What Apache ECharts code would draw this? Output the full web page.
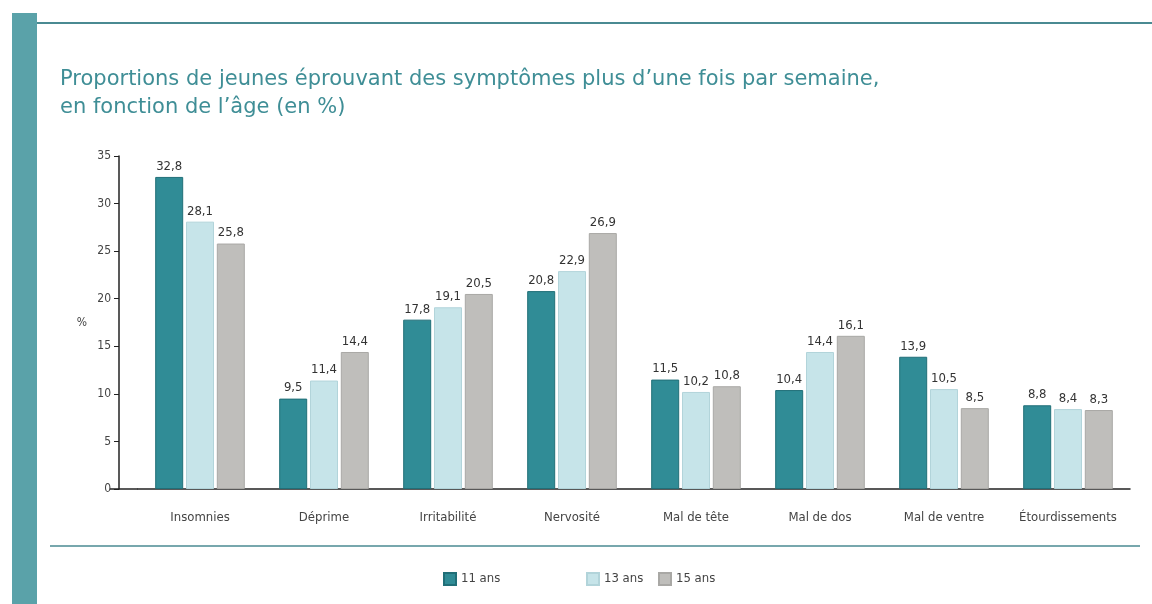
<!DOCTYPE html>
<html>
<head>
<meta charset="utf-8">
<title>Symptômes par âge</title>
<script src="https://cdn.jsdelivr.net/npm/echarts@6/dist/echarts.min.js"></script>
<style>
    html, body { margin: 0; padding: 0; background: #ffffff; }
    #main { width: 1152px; height: 604px; }
</style>
</head>
<body>
<div id="main"></div>
<script>
// symptômes (catégories de l'axe x)
var categories = ['Insomnies', 'Déprime', 'Irritabilité', 'Nervosité',
    'Mal de tête', 'Mal de dos', 'Mal de ventre', 'Étourdissements'];
// valeurs en % par âge
var ans11 = [32.8, 9.5, 17.8, 20.8, 11.5, 10.4, 13.9, 8.8];
var ans13 = [28.1, 11.4, 19.1, 22.9, 10.2, 14.4, 10.5, 8.4];
var ans15 = [25.8, 14.4, 20.5, 26.9, 10.8, 16.1, 8.5, 8.3];
var seriesNames = ['11 ans', '13 ans', '15 ans'];
var yTicks = [0, 5, 10, 15, 20, 25, 30, 35];

var colors = ['#308c96', '#c6e4e9', '#bfbebb'];
var borders = ['#216f78', '#b2d4da', '#a9a8a5'];
var narrow = "'Liberation Sans Narrow', 'DejaVu Sans Condensed', sans-serif";
var teal = '#3f8e96';

function makeSeries(name, values, i) {
    return {
        name: name,
        type: 'bar',
        barWidth: 28,
        barGap: '10%',
        data: values,
        itemStyle: {color: colors[i], borderColor: borders[i], borderWidth: 1},
        label: {
            show: true,
            position: 'top',
            distance: 4,
            color: '#333',
            fontFamily: narrow,
            fontSize: 13,
            formatter: function (p) {
                // virgule décimale
                return String(p.value).replace('.', ',');
            }
        }
    };
}

var legends = [];
var legendLeft = [438, 581, 653];
for (var i = 0; i < seriesNames.length; i++) {
    legends.push({
        data: [seriesNames[i]],
        left: legendLeft[i],
        top: 567,
        itemWidth: 12,
        itemHeight: 12,
        icon: 'rect',
        textStyle: {color: '#444', fontFamily: narrow, fontSize: 13}
    });
}

var option = {
    backgroundColor: '#ffffff',
    animation: false,
    title: {
        text: 'Proportions de jeunes éprouvant des symptômes plus d\u2019une fois par semaine,\nen fonction de l\u2019âge (en %)',
        left: 55,
        top: 61,
        textStyle: {
            color: teal,
            fontFamily: "'DejaVu Sans', sans-serif",
            fontSize: 21,
            fontWeight: 'normal',
            lineHeight: 28
        }
    },
    legend: legends,
    grid: {left: 138, right: 22, top: 156, bottom: 115},
    xAxis: {
        type: 'category',
        data: categories,
        axisLine: {lineStyle: {color: '#222', width: 1.5}},
        axisTick: {show: false},
        axisLabel: {interval: 0, color: '#444', fontFamily: narrow, fontSize: 13, margin: 22}
    },
    yAxis: {
        type: 'value',
        min: 0,
        max: yTicks[yTicks.length - 1],
        interval: yTicks[1] - yTicks[0],
        offset: 19,
        name: '%',
        nameLocation: 'middle',
        nameRotate: 0,
        nameGap: 32,
        nameTextStyle: {color: '#444', fontFamily: narrow, fontSize: 12},
        axisLine: {show: true, lineStyle: {color: '#222', width: 1.5}},
        axisTick: {show: true, length: 5, lineStyle: {color: '#222'}},
        splitLine: {show: false},
        axisLabel: {color: '#444', fontFamily: narrow, fontSize: 12, margin: 8}
    },
    series: [
        makeSeries(seriesNames[0], ans11, 0),
        makeSeries(seriesNames[1], ans13, 1),
        makeSeries(seriesNames[2], ans15, 2)
    ]
};

var myChart = echarts.init(document.getElementById('main'));
myChart.setOption(option);

// cadre de la page + prolongement de l'axe x jusqu'à l'axe y décalé
var zero = myChart.convertToPixel({gridIndex: 0}, [0, 0]);
var bandStart = myChart.convertToPixel({xAxisIndex: 0}, categories[0]) - 62;
myChart.setOption({
    graphic: [
        {type: 'rect', shape: {x: 12, y: 13, width: 25, height: 600}, style: {fill: '#5aa2a9'}, z: 10},
        {type: 'line', shape: {x1: 37, y1: 23, x2: 1152, y2: 23}, style: {stroke: '#4a8a92', lineWidth: 2}, z: 10},
        {type: 'line', shape: {x1: 50, y1: 546, x2: 1140, y2: 546}, style: {stroke: '#4a8a92', lineWidth: 1.5}, z: 10},
        {type: 'line', shape: {x1: bandStart - 28, y1: zero[1], x2: bandStart, y2: zero[1]}, style: {stroke: '#222', lineWidth: 1.5}, z: 10}
    ]
});
</script>
</body>
</html>
